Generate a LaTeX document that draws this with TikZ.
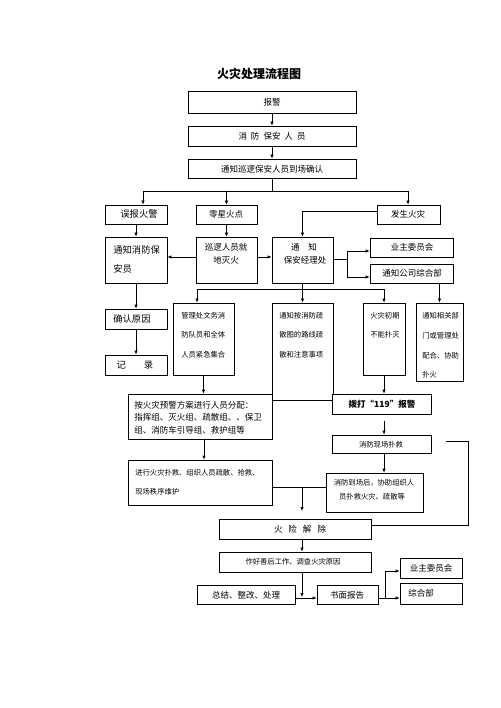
\documentclass[tikz,border=0pt]{standalone}
\usepackage{fontspec}
\setmainfont{Noto Sans CJK SC}
\usetikzlibrary{arrows.meta,fit}
\newcommand\bx[3]{\node[box,fit={#2 #3}] (#1) {};}
\begin{document}
\begin{tikzpicture}[x=1pt,y=-1pt,line width=0.7pt,
  box/.style={draw,fill=white,inner sep=0pt},
  tx/.style={inner sep=0pt,font=\fontsize{8.5}{10}\selectfont},
  tl/.style={inner sep=0pt,font=\fontsize{9.3}{11}\selectfont},
  ts/.style={inner sep=0pt,font=\fontsize{7.3}{9}\selectfont},
  arr/.style={-{Latex[length=4pt,width=3.5pt]}}]
\useasboundingbox[fill=white] (0,0) rectangle (500,708);
\node[inner sep=0pt,font=\fontsize{12}{14}\selectfont\bfseries] (title) at (259,74) {火灾处理流程图};
% boxes
\bx{bj}{(188,91)}{(356,113)}
\bx{xf}{(188,126)}{(356,146)}
\bx{tz}{(188,159)}{(356,178)}
\bx{wb}{(105,205)}{(167,224)}
\bx{lx}{(196,205)}{(257,224)}
\bx{fs}{(377,205)}{(440,224)}
\bx{tzxf}{(105,237)}{(167,283)}
\bx{xl}{(196,237)}{(257,283)}
\bx{jl}{(272,237)}{(333,283)}
\bx{yz}{(370,238)}{(453,257)}
\bx{zh}{(370,264)}{(453,283)}
\bx{qr}{(105,309)}{(167,329)}
\bx{jlu}{(105,355)}{(167,375)}
\bx{glc}{(173,303)}{(234,375)}
\bx{sd}{(272,303)}{(333,400)}
\bx{cq}{(363,303)}{(405,375)}
\bx{xg}{(416,303)}{(463,381)}
\bx{fp}{(128,394)}{(272,439)}
\bx{bd}{(332,394)}{(431,414)}
\bx{xc}{(332,435)}{(431,453)}
\bx{dc}{(326,473)}{(423,512)}
\bx{jx}{(128,460)}{(272,505)}
\bx{jc}{(219,519)}{(371,539)}
\bx{sh}{(219,552)}{(371,572)}
\bx{zj}{(197,585)}{(295,604)}
\bx{sm}{(317,585)}{(378,604)}
\bx{yz2}{(400,558)}{(462,578)}
\bx{zh2}{(400,583)}{(462,604)}
% texts
\node[tx] (t1) at (272,102) {报警};
\node[tx] (t2) at (272,136) {消\hspace{4pt}防\hspace{4pt}保安\hspace{4pt}人\hspace{4pt}员};
\node[tx] (t3) at (272,169) {通知巡逻保安人员到场确认};
\node[tl] (t4) at (139,214) {误报火警};
\node[tx] (t5) at (226,214) {零星火点};
\node[tx] (t6) at (408,214) {发生火灾};
\node[tl,anchor=west] (t7) at (113,250) {通知消防保};
\node[tl,anchor=west] (t8) at (113,269) {安员};
\node[tx] (t9) at (226,247) {巡逻人员就};
\node[tx] (t10) at (226,260) {地灭火};
\node[tx] (t11) at (304,247) {通\hspace{9pt}知};
\node[tx] (t12) at (305,260) {保安经理处};
\node[tx] (t13) at (412,247) {业主委员会};
\node[tx] (t14) at (412,273) {通知公司综合部};
\node[tl,anchor=west] (t15) at (113,319) {确认原因};
\node[tl] (t16) at (135,365) {记\hspace{18pt}录};
\node[ts,anchor=west] (t17) at (181,316) {管理处文务消};
\node[ts,anchor=west] (t18) at (181,335) {防队员和全体};
\node[ts,anchor=west] (t19) at (181,355) {人员紧急集合};
\node[ts,anchor=west] (t20) at (279,316) {通知按消防疏};
\node[ts,anchor=west] (t21) at (279,335) {散图的路线疏};
\node[ts,anchor=west] (t22) at (279,355) {散和注意事项};
\node[ts,anchor=west] (t23) at (370,316) {火灾初期};
\node[ts,anchor=west] (t24) at (370,335) {不能扑灭};
\node[ts,anchor=west] (t25) at (422,316) {通知相关部};
\node[ts,anchor=west] (t26) at (422,336) {门或管理处};
\node[ts,anchor=west] (t27) at (422,356) {配合、协助};
\node[ts,anchor=west] (t28) at (422,375) {扑火};
\node[tx,anchor=west] (t29) at (134,405) {按火灾预警方案进行人员分配：};
\node[tx,anchor=west] (t30) at (134,417) {指挥组、灭火组、疏散组、、保卫};
\node[tx,anchor=west] (t31) at (134,430) {组、消防车引导组、救护组等};
\node[tx,font=\fontsize{8.5}{10}\selectfont\bfseries] (t32) at (382,404) {拨打“119”报警};
\node[ts] (t33) at (381,445) {消防现场扑救};
\node[ts] (t34) at (374,483) {消防到场后，协助组织人};
\node[ts] (t35) at (372,497) {员扑救火灾、疏散等};
\node[ts,anchor=west] (t36) at (135,473) {进行火灾扑救、组织人员疏散、抢救、};
\node[ts,anchor=west] (t37) at (135,492) {现场秩序维护};
\node[tx] (t38) at (300,529) {火\hspace{6pt}险\hspace{6pt}解\hspace{6pt}除};
\node[ts] (t39) at (293,562) {作好善后工作、调查火灾原因};
\node[tx] (t40) at (246,595) {总结、整改、处理};
\node[tx] (t41) at (347,595) {书面报告};
\node[tx] (t42) at (431,568) {业主委员会};
\node[tx,anchor=west] (t43) at (408,593) {综合部};
% connectors
\draw[arr] (bj) -- (xf);
\draw[arr] (xf) -- (tz);
\coordinate (j1) at (272,191);
\coordinate (j1l) at (143,191);
\coordinate (j1r) at (408,191);
\draw (tz.south) -- (j1);
\draw (j1l) -- (j1r);
\draw[arr] (j1l) -- (j1l |- wb.north);
\draw[arr] (lx.north |- j1) -- (lx.north);
\draw[arr] (j1r) -- (j1r |- fs.north);
\draw[arr] (wb) -- (tzxf);
\draw[arr] (lx) -- (xl);
\draw[arr] (xl.west |- 0,257) -- (tzxf.east |- 0,257);
\draw[arr] (xl.east |- 0,257) -- (jl.west |- 0,257);
\draw[arr] (fs.west |- 0,211) -| (jl.north);
\coordinate (j2) at (347,259);
\draw (jl.east |- j2) -- (j2);
\draw (347,251) -- (347,277);
\draw[arr] (347,251) -- (yz.west |- 0,251);
\draw[arr] (347,277) -- (zh.west |- 0,277);
\coordinate (j3) at (302,289);
\draw (jl.south) -- (jl.south |- j3);
\draw (197,289) -- (cq.north |- j3);
\draw[arr] (197,289) -- (197,0 |- glc.north);
\draw[arr] (sd.north |- j3) -- (sd.north);
\draw[arr] (cq.north |- j3) -- (cq.north);
\draw[arr] (xg.north |- zh.south) -- (xg.north);
\draw[arr] (tzxf) -- (qr);
\draw[arr] (qr) -- (jlu);
\draw[arr] (glc.south) -- (glc.south |- fp.north);
\draw[arr] (cq.south) -- (cq.south |- bd.north);
\draw[arr] ([yshift=-7pt]bd.south -| cq.south) -- (xc.north -| cq.south);
\draw[arr] (xc.south -| cq.south) -- (dc.north -| cq.south);
\draw[arr] ([xshift=4pt]fp.south) -- ([xshift=4pt]fp.south |- jx.north);
\draw (jx.east |- 0,487) -- (dc.west |- 0,487);
\draw[arr] (302,487) -- (302,511);
\draw (446,441) -- (468,441) -- (468,525) -- (jc.east |- 0,525);
\draw[arr] (jc.south -| 302,0) -- (sh.north -| 302,0);
\draw[arr] (sh.south -| 302,0) -- (302,597);
\draw[arr] (zj.east |- 0,598) -- (sm.west |- 0,598);
\draw (sm.east |- 0,598) -- (385,598);
\draw (385,571) -- (385,598);
\draw[arr] (385,571) -- (yz2.west |- 0,571);
\draw[arr] (385,598) -- (zh2.west |- 0,598);
\end{tikzpicture}
\end{document}
